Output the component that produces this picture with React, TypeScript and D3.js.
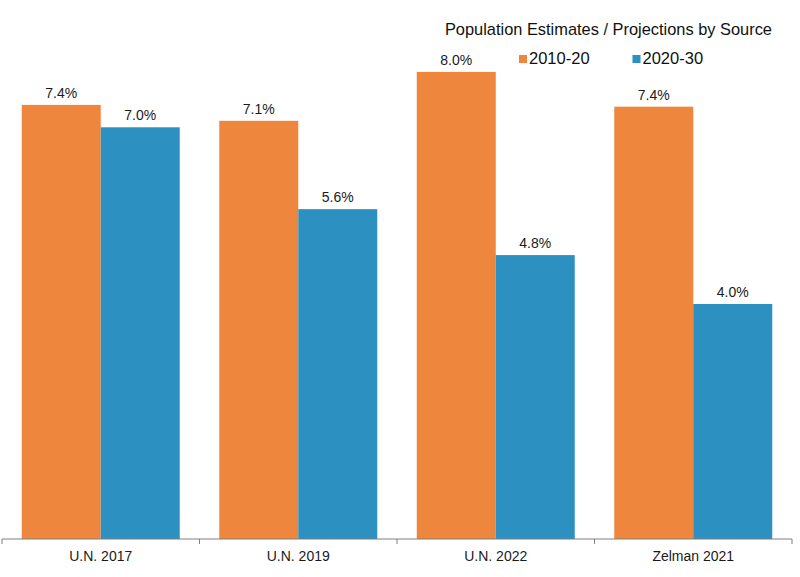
import React from "react";
import * as d3 from "d3";

const categories = ["U.N. 2017", "U.N. 2019", "U.N. 2022", "Zelman 2021"];
const seriesNames = ["2010-20", "2020-30"];
const values2010_20 = [7.37, 7.1, 7.93, 7.34];
const values2020_30 = [6.99, 5.6, 4.82, 3.99];
const labels2010_20 = ["7.4%", "7.1%", "8.0%", "7.4%"];
const labels2020_30 = ["7.0%", "5.6%", "4.8%", "4.0%"];
const colors = ["#EE873D", "#2C90C1"];
const legendTitle = "Population Estimates / Projections by Source";

const W = 800;
const H = 577;
const FONT = "'Liberation Sans', Arial, sans-serif";

export default function App() {
  const baseY = 539;
  const x0 = d3.scaleBand<string>().domain(categories).range([2, 792]).paddingInner(0).paddingOuter(0);
  const x1 = d3.scaleBand<string>().domain(seriesNames).range([0, x0.bandwidth()]).paddingInner(0).paddingOuter(0.25);
  const y = d3.scaleLinear().domain([0, 8]).range([baseY, baseY - 8 * 58.9]);
  const seriesValues = [values2010_20, values2020_30];
  const seriesLabels = [labels2010_20, labels2020_30];
  const boundaries = [...categories.map((c) => x0(c) as number), 792];

  return (
    <svg width={W} height={H} style={{ position: "absolute", left: 0, top: 0 }} fontFamily={FONT}>
      <rect x={0} y={0} width={W} height={H} fill="#ffffff" />
      {categories.map((c, i) => (
        <g key={c} transform={`translate(${x0(c)},0)`}>
          {seriesNames.map((s, j) => {
            const v = seriesValues[j][i];
            const bx = x1(s) as number;
            return (
              <g key={s}>
                <rect x={bx} y={y(v)} width={x1.bandwidth()} height={baseY - y(v)} fill={colors[j]} />
                <text x={bx + x1.bandwidth() / 2} y={y(v) - 7} textAnchor="middle" fontSize={14} fill="#1a1a1a">
                  {seriesLabels[j][i]}
                </text>
              </g>
            );
          })}
          <text x={x0.bandwidth() / 2} y={561} textAnchor="middle" fontSize={14} fill="#1a1a1a">
            {c}
          </text>
        </g>
      ))}
      <line x1={2} x2={792} y1={baseY} y2={baseY} stroke="#7f7f7f" strokeWidth={1} />
      {boundaries.map((bx, i) => (
        <line key={i} x1={bx} x2={bx} y1={baseY} y2={baseY + 5} stroke="#7f7f7f" strokeWidth={1} />
      ))}
      <text x={772} y={35} textAnchor="end" fontSize={16.4} fill="#111111">
        {legendTitle}
      </text>
      {seriesNames.map((s, j) => {
        const lx = j === 0 ? 519 : 632.5;
        return (
          <g key={s}>
            <rect x={lx} y={55} width={8} height={8} fill={colors[j]} />
            <text x={lx + 10} y={63.5} fontSize={16.5} fill="#111111">
              {s}
            </text>
          </g>
        );
      })}
    </svg>
  );
}
